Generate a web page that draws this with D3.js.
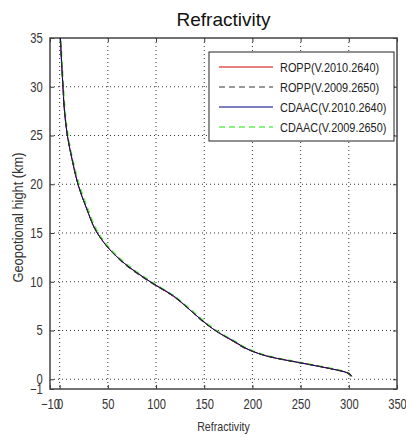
<!DOCTYPE html>
<html>
<head>
<meta charset="utf-8">
<script src="https://cdn.jsdelivr.net/npm/d3@7"></script>
<style>
  body { margin: 0; background: #fff; }
  svg { display: block; font-family: 'Liberation Sans', Arial, sans-serif; }
</style>
</head>
<body>
<div id="chart"></div>
<script>
// heights (km) and refractivity for each processing version
var heights = [0.3, 0.6, 1.3, 1.7, 2.3, 3.0, 3.9, 4.9, 6.1, 7.3, 8.5, 10, 11.9, 13.3, 15, 17.5, 20, 22.5, 25, 27.5, 30, 32.5, 35, 36]
var roppNew = [303, 300, 270, 249, 218, 197, 180, 163, 147, 133, 118, 94, 67, 52, 39, 28, 19, 13, 8, 5, 3.5, 2, 0.8, 0.5]
var roppOld = [302, 299, 271, 248, 219, 196, 180, 163, 146, 133, 118, 93, 66, 52, 39, 28, 19, 13, 8, 5, 3.5, 2, 0.8, 0.5]
var cdaacNew = [303, 300, 270, 249, 218, 197, 181, 163, 147, 133, 119, 94, 67, 52, 39, 28, 19, 13, 8, 5, 3.4, 2, 0.8, 0.5]
var cdaacOld = [302, 300, 271, 250, 219, 198, 181, 164, 148, 134, 119, 95, 68, 53, 40, 29, 20, 13.5, 8.5, 5.5, 3.8, 2.3, 1, 0.6]

var seriesNames = ['ROPP(V.2010.2640)', 'ROPP(V.2009.2650)', 'CDAAC(V.2010.2640)', 'CDAAC(V.2009.2650)']
var xTicks = [-10, 0, 50, 100, 150, 200, 250, 300, 350]
var yTicks = [-1, 0, 5, 10, 15, 20, 25, 30, 35]

var margin = { top: 38, left: 50, right: 9, bottom: 48 }
var fullWidth = 406
var fullHeight = 437
var width = fullWidth - margin.left - margin.right
var height = fullHeight - margin.top - margin.bottom

var svg = d3.select('#chart')
  .append('svg')
  .attr('width', fullWidth)
  .attr('height', fullHeight)

var g = svg.append('g')
  .attr('transform', 'translate(' + margin.left + ',' + margin.top + ')')

var xPositionScale = d3.scaleLinear().domain([-10, 350]).range([0, width])
var yPositionScale = d3.scaleLinear().domain([-1, 35]).range([height, 0])

// dotted grid
g.selectAll('.vgrid')
  .data(xTicks.slice(1, -1))
  .enter()
  .append('line')
  .attr('x1', d => xPositionScale(d))
  .attr('x2', d => xPositionScale(d))
  .attr('y1', 0)
  .attr('y2', height)
  .attr('stroke', '#333')
  .attr('stroke-width', 1)
  .attr('stroke-dasharray', '1,3')

g.selectAll('.hgrid')
  .data(yTicks.slice(1, -1))
  .enter()
  .append('line')
  .attr('x1', 0)
  .attr('x2', width)
  .attr('y1', d => yPositionScale(d))
  .attr('y2', d => yPositionScale(d))
  .attr('stroke', '#333')
  .attr('stroke-width', 1)
  .attr('stroke-dasharray', '1,3')

// axes, ticks pointing inwards like matlab
var xAxis = d3.axisBottom(xPositionScale).tickValues(xTicks).tickSize(-4).tickPadding(10)
g.append('g')
  .attr('class', 'axis x-axis')
  .attr('transform', 'translate(0,' + height + ')')
  .call(xAxis)

var xAxisTop = d3.axisTop(xPositionScale).tickValues(xTicks).tickSize(-4).tickFormat('')
g.append('g').attr('class', 'axis').call(xAxisTop)

var yAxis = d3.axisLeft(yPositionScale).tickValues(yTicks).tickSize(-4).tickPadding(9)
g.append('g')
  .attr('class', 'axis y-axis')
  .call(yAxis)

var yAxisRight = d3.axisRight(yPositionScale).tickValues(yTicks).tickSize(-4).tickFormat('')
g.append('g')
  .attr('class', 'axis')
  .attr('transform', 'translate(' + width + ',0)')
  .call(yAxisRight)

g.selectAll('.axis path').remove()
g.selectAll('.axis line').attr('stroke', '#333')
// squeeze the labels, the original font is a narrow one
g.selectAll('.axis text')
  .attr('font-family', 'Liberation Sans, Arial, sans-serif')
  .attr('font-size', 14)
  .attr('fill', '#333')
  .attr('transform', 'scale(0.8,1)')

g.append('rect')
  .attr('width', width)
  .attr('height', height)
  .attr('fill', 'none')
  .attr('stroke', '#444')
  .attr('stroke-width', 1.5)

// profiles
var clip = svg.append('clipPath').attr('id', 'clip')
clip.append('rect').attr('width', width).attr('height', height)

var line = d3.line()
  .x(d => xPositionScale(d[0]))
  .y(d => yPositionScale(d[1]))
  .curve(d3.curveMonotoneY)

var series = [
  { name: seriesNames[3], values: cdaacOld, color: '#66ee55', dash: '6,4', w: 2 },
  { name: seriesNames[0], values: roppNew, color: '#cc0000', dash: null, w: 1 },
  { name: seriesNames[2], values: cdaacNew, color: '#000080', dash: null, w: 1 },
  { name: seriesNames[1], values: roppOld, color: '#333', dash: '6,4', w: 1 }
]

series.forEach(function(s) {
  g.append('path')
    .datum(s.values.map((v, i) => [v, heights[i]]))
    .attr('d', line)
    .attr('clip-path', 'url(#clip)')
    .attr('fill', 'none')
    .attr('stroke', s.color)
    .attr('stroke-width', s.w)
    .attr('stroke-dasharray', s.dash)
})

// legend
var legendOrder = [series[1], series[3], series[2], series[0]]
var legend = svg.append('g').attr('transform', 'translate(209,52)')
legend.append('rect')
  .attr('width', 185)
  .attr('height', 89)
  .attr('fill', '#fff')
  .attr('stroke', '#222')
  .attr('stroke-width', 1)

legend.selectAll('.item')
  .data(legendOrder)
  .enter()
  .append('g')
  .attr('transform', (d, i) => 'translate(0,' + (15 + i * 20) + ')')
  .each(function(d) {
    var item = d3.select(this)
    item.append('line')
      .attr('x1', 10)
      .attr('x2', 64)
      .attr('stroke', d.color)
      .attr('stroke-width', d.w > 1 ? 1.5 : 1.2)
      .attr('stroke-dasharray', d.dash)
    item.append('text')
      .text(d.name)
      .attr('transform', 'translate(71,0) scale(0.84,1)')
      .attr('dy', '0.35em')
      .attr('font-size', 13)
      .attr('fill', '#222')
  })

// titles
svg.append('text')
  .text('Refractivity')
  .attr('x', margin.left + width / 2)
  .attr('y', 26)
  .attr('text-anchor', 'middle')
  .attr('font-size', 19)
  .attr('fill', '#111')

svg.append('text')
  .text('Refractivity')
  .attr('transform', 'translate(' + (margin.left + width / 2) + ',431) scale(0.82,1)')
  .attr('text-anchor', 'middle')
  .attr('font-size', 13)
  .attr('fill', '#333')

svg.append('text')
  .text('Geopotional hight (km)')
  .attr('transform', 'translate(23,' + (margin.top + height / 2 + 4) + ') rotate(-90) scale(0.92,1)')
  .attr('text-anchor', 'middle')
  .attr('font-size', 14)
  .attr('fill', '#333')
</script>
</body>
</html>
